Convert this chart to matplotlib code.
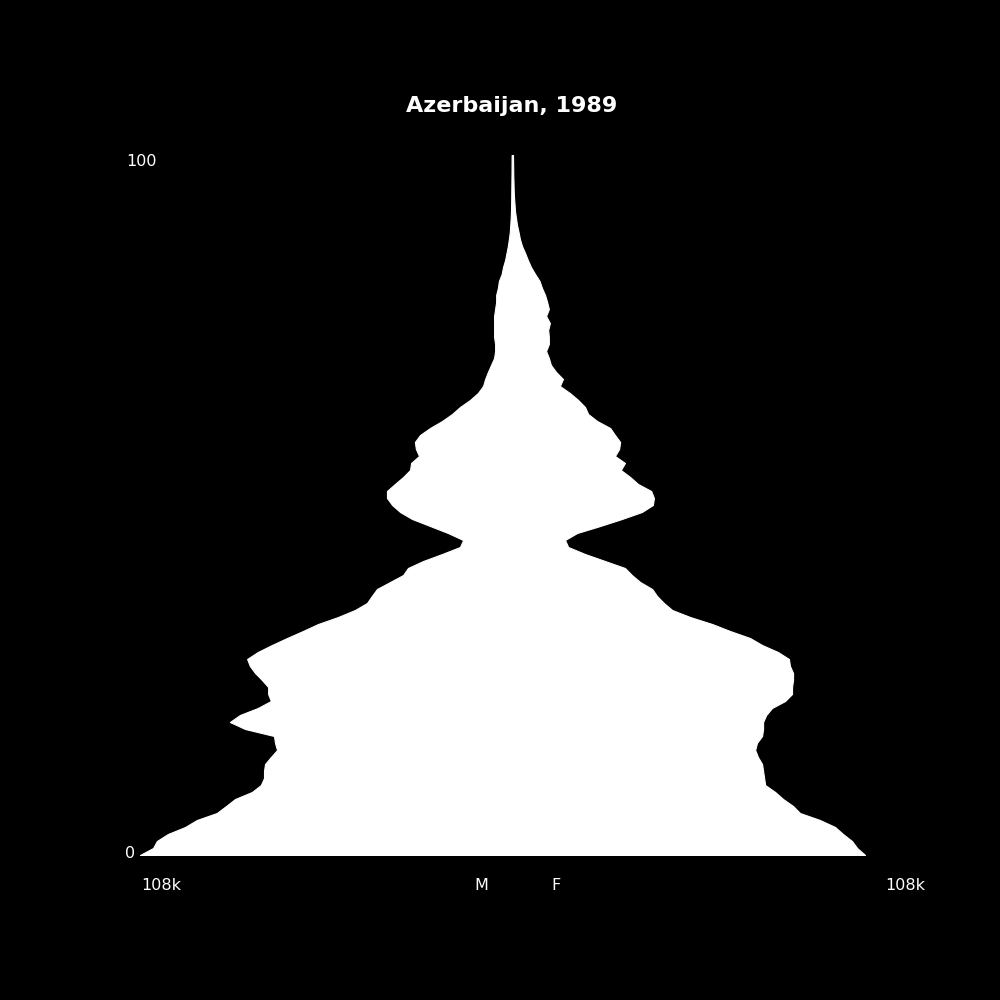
import numpy as np
import matplotlib
matplotlib.use('Agg')
import matplotlib.pyplot as plt

# population by single year of age, thousands
ages = np.arange(0, 101)
male = [
    108.0, 104.2, 103.1, 99.9, 94.9, 91.5, 85.7, 83.0, 80.4, 75.5,
    72.9, 72.0, 72.0, 71.7, 70.0, 68.2, 68.8, 69.1, 77.5, 81.9,
    79.0, 73.8, 70.0, 70.8, 70.8, 72.6, 74.6, 76.1, 76.9, 73.8,
    69.7, 65.3, 60.7, 56.3, 50.5, 45.6, 42.1, 40.7, 39.2, 35.4,
    31.6, 30.2, 25.8, 20.3, 15.1, 14.2, 18.6, 23.8, 29.0, 32.5,
    34.8, 36.3, 36.3, 34.0, 31.6, 29.6, 29.3, 27.0, 27.9, 28.2,
    26.7, 23.8, 20.3, 17.4, 15.1, 12.2, 9.9, 8.4, 7.8, 7.0,
    6.1, 5.2, 4.9, 4.9, 5.2, 5.2, 5.2, 5.2, 4.9, 4.6,
    4.6, 4.1, 3.8, 3.0, 2.6, 2.0, 1.6, 1.2, 0.9, 0.64,
    0.5, 0.38, 0.29, 0.25, 0.22, 0.2, 0.17, 0.15, 0.13, 0.12,
    0.1,
]
female = [
    102.5, 100.2, 98.7, 96.1, 93.8, 89.4, 83.6, 81.6, 78.7, 76.4,
    73.5, 73.2, 72.9, 72.6, 71.4, 70.6, 71.1, 72.6, 72.9, 72.9,
    73.8, 75.5, 79.3, 81.3, 81.3, 81.6, 81.6, 80.7, 80.4, 77.2,
    72.6, 69.1, 63.3, 58.1, 51.7, 46.5, 44.1, 42.1, 40.7, 37.2,
    34.8, 32.8, 27.0, 21.2, 16.3, 15.4, 18.9, 25.6, 31.9, 37.7,
    40.9, 41.2, 40.4, 36.6, 34.3, 31.6, 32.8, 29.9, 31.1, 31.4,
    29.9, 28.5, 24.7, 22.1, 21.2, 19.2, 16.8, 13.9, 14.8, 12.8,
    11.3, 10.7, 9.9, 10.7, 10.7, 10.5, 11.0, 9.9, 10.7, 10.2,
    9.6, 8.7, 8.0, 6.7, 5.5, 4.6, 3.8, 2.9, 2.3, 1.9,
    1.45, 1.16, 0.87, 0.73, 0.58, 0.49, 0.44, 0.38, 0.35, 0.32,
    0.29,
]
max_label = 108

fig = plt.figure(figsize=(10, 10), dpi=100, facecolor='black')
ax = fig.add_axes([0.140, 0.145, 0.744, 0.700])
ax.set_facecolor('black')
ax.fill_betweenx(ages, -np.array(male), np.array(female), color='white', linewidth=0.8, edgecolor='white')
ax.set_xlim(-max_label, max_label)
ax.set_ylim(0, 100)
ax.axis('off')

fig.text(0.512, 0.894, 'Azerbaijan, 1989', color='white', fontsize=16, fontweight='bold', ha='center', va='center')
fig.text(0.141, 0.839, '100', color='white', fontsize=11.5, ha='center', va='center')
fig.text(0.130, 0.146, '0', color='white', fontsize=11.5, ha='center', va='center')
fig.text(0.161, 0.115, f'{max_label}k', color='white', fontsize=11.5, ha='center', va='center')
fig.text(0.905, 0.115, f'{max_label}k', color='white', fontsize=11.5, ha='center', va='center')
fig.text(0.481, 0.115, 'M', color='white', fontsize=11.5, ha='center', va='center')
fig.text(0.556, 0.115, 'F', color='white', fontsize=11.5, ha='center', va='center')

fig.savefig('out.png', facecolor='black')
